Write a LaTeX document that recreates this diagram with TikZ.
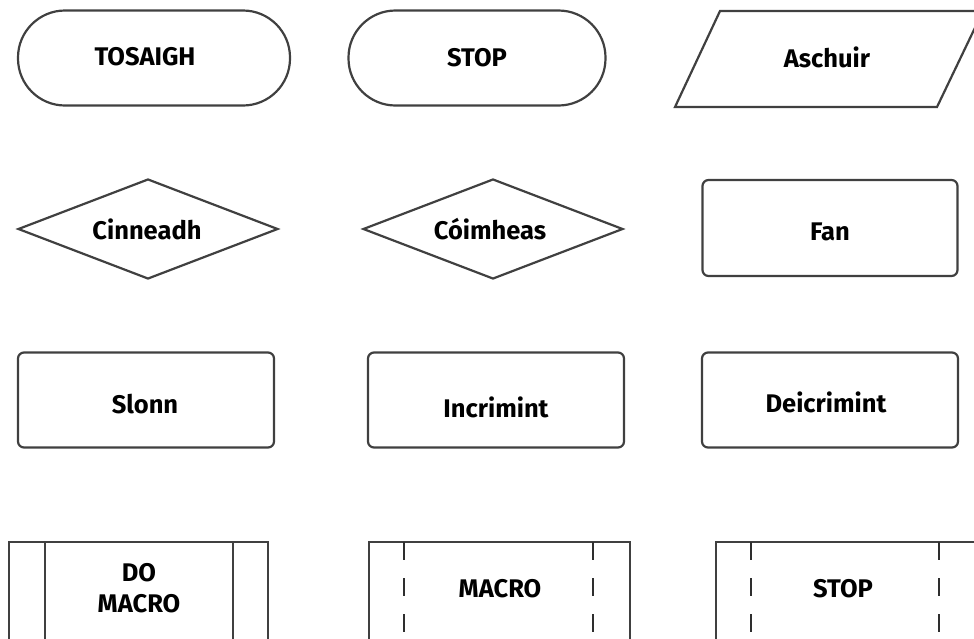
\documentclass[tikz,border=0pt]{standalone}
\usepackage{fontspec}
\setmainfont{Fira Sans}
\usetikzlibrary{shapes.geometric}
\begin{document}
\begin{tikzpicture}[x=1pt,y=-1pt,
  shp/.style={draw=black!75,line width=2.2pt},
  lbl/.style={font=\fontsize{25.5}{31}\selectfont\bfseries,text=black,align=center,inner sep=0pt},
  term/.style={shp,rounded corners=47pt,minimum width=272pt,minimum height=95pt,lbl},
  proc/.style={shp,rounded corners=6pt,minimum width=256pt,minimum height=95pt,lbl},
  dec/.style={shp,diamond,aspect=2.6,minimum width=260pt,minimum height=100pt,lbl},
  dsh/.style={draw=black!82,line width=2.2pt,dash pattern=on 18pt off 18pt}]
\useasboundingbox (0,0) rectangle (974,638);
\clip (0,0) rectangle (974,638);
% row 1
\node[term] (tosaigh) at (154,58) {};
\node[lbl] (tostext) at (145,57) {TOSAIGH};
\node[term,minimum width=257pt] (stop1) at (477,58) {STOP};
\draw[shp] (720,11) -- (983,11) -- (937,107) -- (675,107) -- cycle;
\node[lbl] (aschuir) at (827,57) {Aschuir};
% row 2
\node[dec] (cinneadh) at (148,229) {};
\node[lbl] (cintext) at (147,229) {Cinneadh};
\node[dec] (coimheas) at (493,229) {};
\node[lbl] (coimtext) at (490,229) {Cóimheas};
\node[proc,minimum width=255pt,minimum height=96pt] (fan) at (830,228) {};
\node[lbl] (fantext) at (830,232) {Fan};
% row 3
\node[proc] (slonn) at (146,400) {};
\node[lbl] (slonntext) at (145,404) {Slonn};
\node[proc] (incr) at (496,400) {};
\node[lbl] (incrtext) at (496,407) {Incrimint};
\node[proc] (decr) at (830,400) {};
\node[lbl] (decrtext) at (826,402) {Deicrimint};
% row 4
\draw[shp] (9,660) -- (9,542) -- (268,542) -- (268,660);
\draw[shp] (45,542) -- (45,660);
\draw[shp] (233,542) -- (233,660);
\node[lbl] (domacro) at (139,588) {DO\\MACRO};
\draw[shp] (369,660) -- (369,542) -- (630,542) -- (630,660);
\draw[dsh] (404,542) -- (404,660);
\draw[dsh] (593,542) -- (593,660);
\node[lbl] (macro) at (500,589) {MACRO};
\draw[shp] (716,660) -- (716,542) -- (990,542);
\draw[dsh] (751,542) -- (751,660);
\draw[dsh] (939,542) -- (939,660);
\node[lbl] (stop2) at (843,589) {STOP};
\end{tikzpicture}
\end{document}
